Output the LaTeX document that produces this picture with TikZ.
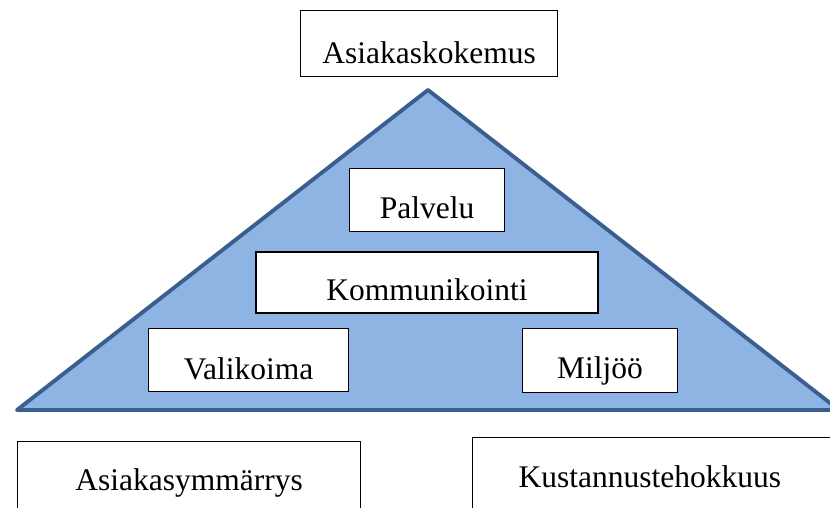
\documentclass[tikz,border=0pt]{standalone}
\usepackage{fontspec}
\setmainfont{Liberation Serif}
\definecolor{pyrfill}{HTML}{8EB4E3}
\definecolor{pyredge}{HTML}{3A5F8F}
\begin{document}
\begin{tikzpicture}[x=1pt,y=-1pt,
  label box/.style={draw=black, fill=white, line width=1.1pt, inner sep=0pt,
    anchor=north west, font=\fontsize{31.5}{36}\selectfont},
  pyramid/.style={fill=pyrfill, draw=pyredge, line width=3.9pt, line join=round}]
  \useasboundingbox (0,0) rectangle (830,508);
  \clip (0,0) rectangle (830,508);
  \fill[white] (0,0) rectangle (830,508);

  % pyramid
  \coordinate (apex) at (428,90);
  \coordinate (bl) at (17,410);
  \coordinate (br) at (839,410);
  \draw[pyramid] (apex) -- (bl) -- (br) -- cycle;

  % heading above the pyramid
  \node[label box, minimum width=257pt, text height=53pt, text depth=13pt]
    (kokemus) at (300,10) {Asiakaskokemus};

  % blocks inside the pyramid
  \node[label box, minimum width=155pt, text height=50pt, text depth=13pt]
    (palvelu) at (349,168) {Palvelu};
  \node[label box, line width=1.8pt, minimum width=342pt, text height=49pt, text depth=12pt]
    (kommunikointi) at (255,251) {Kommunikointi};
  \node[label box, minimum width=200pt, text height=51pt, text depth=12pt]
    (valikoima) at (148,328) {Valikoima};
  \node[label box, minimum width=155pt, text height=50pt, text depth=14pt]
    (miljoo) at (522,328) {Miljöö};

  % foundation boxes; the right one runs past the page edge
  \node[label box, minimum width=343pt, text height=49pt, text depth=40pt]
    (ymmarrys) at (17,441) {Asiakasymmärrys};
  \node[label box, text height=50pt, text depth=40pt,
        text width=372pt, align=left]
    (kustannus) at (472,437) {\hspace*{46pt}Kustannustehokkuus};
\end{tikzpicture}
\end{document}
